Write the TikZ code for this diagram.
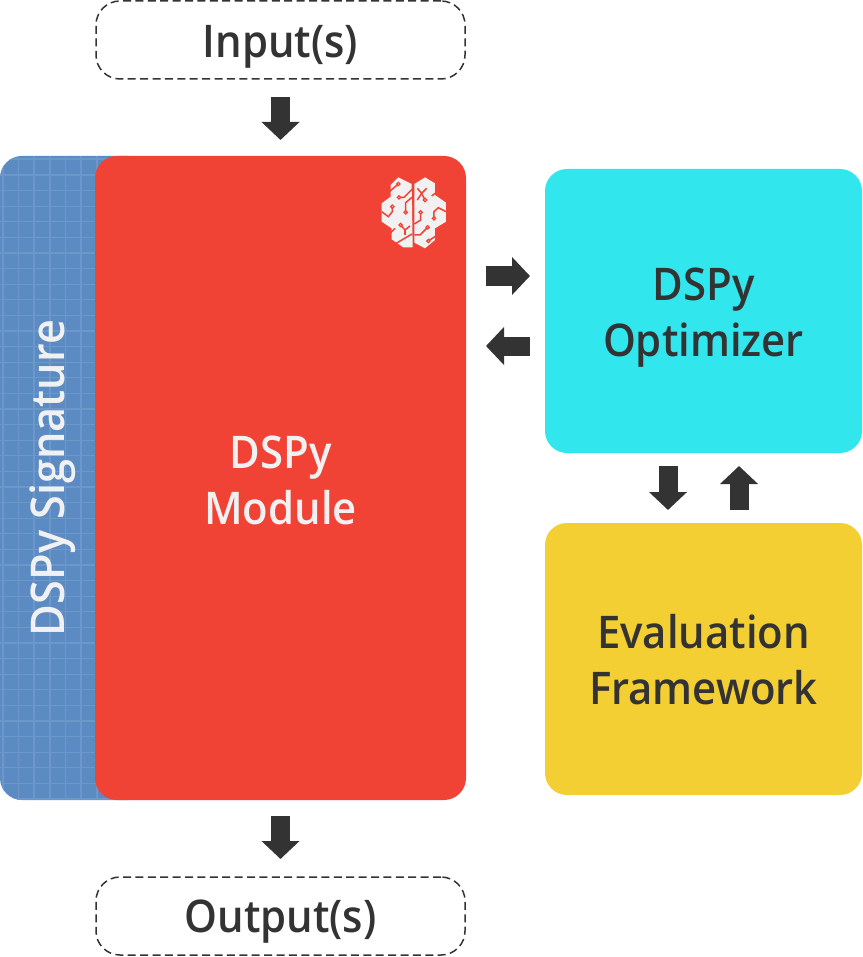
\documentclass[tikz,border=0pt]{standalone}
\usepackage{fontspec}
\setmainfont{Open Sans}[FakeStretch=0.93,UprightFont=* Semibold]
\usetikzlibrary{arrows.meta,calc}
\definecolor{cred}{HTML}{F14236}
\definecolor{cblue}{HTML}{5B8BC2}
\definecolor{cgrid}{HTML}{6B98C9}
\definecolor{ccyan}{HTML}{32E6EE}
\definecolor{cyell}{HTML}{F3CF34}
\definecolor{cdark}{HTML}{333333}
\definecolor{clight}{HTML}{F1F1F1}
\tikzset{
  x=1pt,y=-1pt,
  panel/.style={rectangle,inner sep=0pt,outer sep=0pt,rounded corners=22pt},
  ioframe/.style={panel,draw=cdark,line width=1.5pt,dash pattern=on 8pt off 4.4pt,rounded corners=24pt},
  caption/.style={inner sep=0pt,align=center,font=\fontsize{45}{56}\selectfont,text=cdark},
  blockarrow/.style={draw=cdark,line width=19pt,-{Triangle[width=37pt,length=18pt]}},
  hem/.style={fill=clight,draw=none},
  wire/.style={draw=cred,line width=1.5pt},
  pin/.style={draw=cred,fill=clight,line width=1.2pt},
}
\begin{document}
\begin{tikzpicture}
\useasboundingbox (0,0) rectangle (862,957);
% nodes
\node[ioframe,minimum width=369pt,minimum height=78pt] (input) at (280.5,40) {};
\node[ioframe,minimum width=369pt,minimum height=78pt] (output) at (280.5,916) {};
\node[panel,fill=cblue,minimum width=150pt,minimum height=644pt] (signature) at (75,478) {};
\begin{scope}
  \clip[rounded corners=22pt] (0,156) rectangle (150,800);
  \foreach \gx in {3,18.5,34,50,65.5,81,97} \draw[cgrid,line width=1.2pt] (\gx,156) -- (\gx,800);
  \foreach \gy in {159,175,190.6,206.2,221.8,237.4,253,268.6,284.2,299.8,315.4,331,346.6,362.2,377.8,393.4,409,424.6,440.2,455.8,471.4,487,502.6,518.2,533.8,549.4,565,580.6,596.2,611.8,627.4,643,658.6,674.2,689.8,705.4,721,736.6,752.2,767.8,783.4,799}
    \draw[cgrid,line width=1.2pt] (0,\gy) -- (150,\gy);
\end{scope}
\node[panel,fill=cred,minimum width=371pt,minimum height=644pt] (module) at (280.5,478) {};
\node[panel,fill=ccyan,minimum width=317pt,minimum height=284pt] (optimizer) at (703.5,311) {};
\node[panel,fill=cyell,minimum width=317pt,minimum height=272pt] (evalfw) at (703.5,659) {};
% captions
\node[caption] (inputtext) at (280.5,47) {Input(s)};
\node[caption] (outputtext) at (280.5,922) {Output(s)};
\node[caption,text=clight] (moduletext) at (280.5,480) {DSPy\\Module};
\node[caption,text=clight,rotate=90,font=\fontsize{46.5}{56}\selectfont] (siglabel) at (53,478) {DSPy Signature};
\node[caption] (optimizertext) at (703.5,318) {DSPy\\Optimizer};
\node[caption] (evaltext) at (703.5,660) {Evaluation\\Framework};
% connector ends
\coordinate (mr1) at (module.east |- 0,276);
\coordinate (or1) at (optimizer.west |- 0,276);
\coordinate (mr2) at (module.east |- 0,346);
\coordinate (or2) at (optimizer.west |- 0,346);
\coordinate (od) at (668,453);
\coordinate (ed) at (668,523);
\coordinate (ou) at (739,453);
\coordinate (eu) at (739,523);
% block arrows
\draw[blockarrow,shorten <=18pt,shorten >=16pt] (input.south) -- (module.north);
\draw[blockarrow,shorten <=16pt,shorten >=18pt] (module.south) -- (output.north);
\draw[blockarrow,shorten <=20pt,shorten >=15pt] (mr1) -- (or1);
\draw[blockarrow,shorten <=15pt,shorten >=20pt] (or2) -- (mr2);
\draw[blockarrow,shorten <=13pt,shorten >=13pt] (od) -- (ed);
\draw[blockarrow,shorten <=13pt,shorten >=13pt] (eu) -- (ou);
% brain icon
\begin{scope}[shift={(360,160)},x=0.3333pt,y=-0.3333pt]
\fill[hem] (115,52)--(155,72)--(158,262)--(130,262)--(95,238)--(95,205)--(65,185)--(65,130)--(92,110)--(92,75)--cycle;
\fill[hem] (195,52)--(225,70)--(225,105)--(258,128)--(258,185)--(225,205)--(225,240)--(195,265)--(163,248)--(163,72)--cycle;
\draw[wire] (88,95)--(115,72);
\draw[wire] (65,155)--(85,170)--(97,155)--(97,140);
\draw[wire] (137,157)--(137,128)--(156,112);
\draw[wire] (117,112)--(132,112)--(156,88);
\draw[wire] (122,195)--(135,210)--(150,198);
\draw[wire] (135,210)--(135,225);
\draw[wire] (88,222)--(105,205);
\draw[wire] (100,255)--(156,222);
\draw[wire] (172,85)--(185,100)--(195,120);
\draw[wire] (200,85)--(185,100)--(172,120);
\draw[wire] (215,108)--(232,95);
\draw[wire] (182,157)--(182,180)--(163,192);
\draw[wire] (222,175)--(222,155)--(235,143)--(258,155);
\draw[wire] (203,202)--(180,225)--(163,225);
\draw[wire] (205,243)--(232,225);
\foreach \px/\py in {115/72,97/140,137/157,117/112,122/195,195/120,182/157,222/175,203/202,205/243}
  \draw[pin] (\px,\py) circle[radius=5];
\end{scope}
\end{tikzpicture}
\end{document}
